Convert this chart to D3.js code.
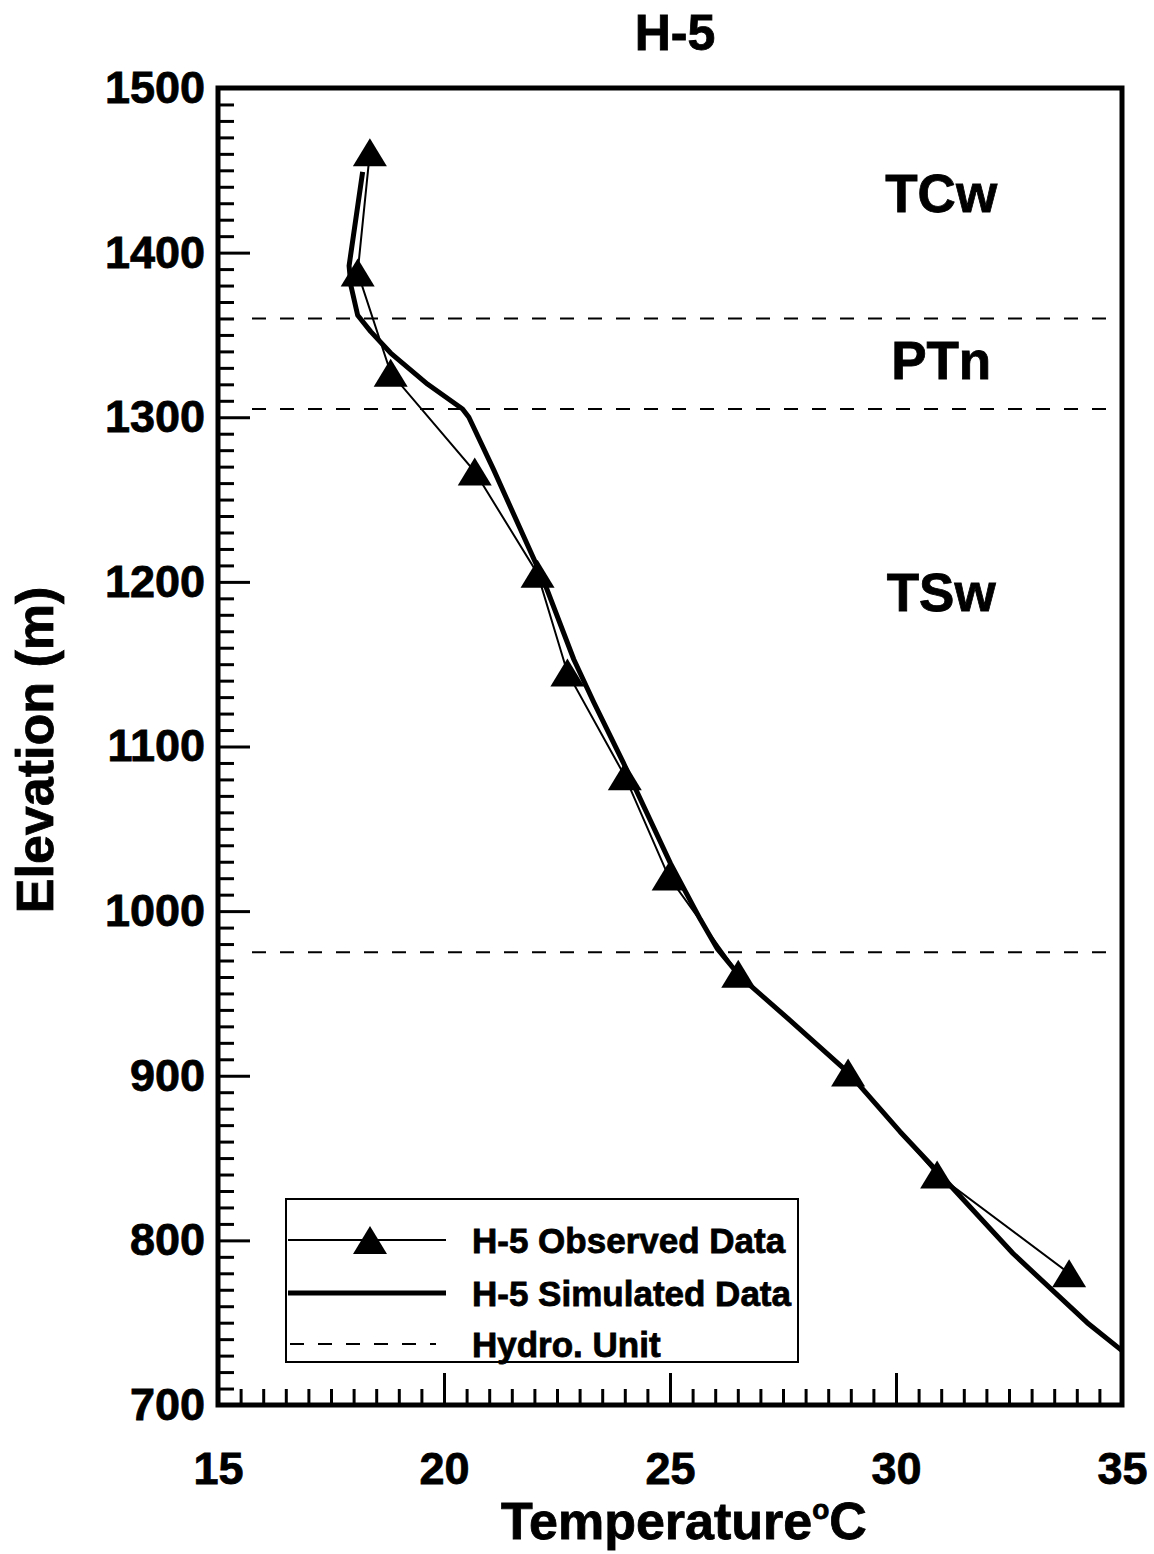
<!DOCTYPE html>
<html lang="en">
<head>
    <meta charset="UTF-8">
    <title>H-5 Temperature Profile</title>
    <script src="https://cdn.jsdelivr.net/npm/d3@7"></script>
</head>
<body>
<style>
    body {
        margin: 0;
        background-color: white;
    }
    svg text {
        font-family: "Liberation Sans", Arial, sans-serif;
        font-weight: bold;
        fill: black;
        stroke: black;
        stroke-width: 0.8px;
    }
    .axis path {
        display: none;
    }
    .axis line {
        stroke: black;
        stroke-width: 3;
    }
    .axis text {
        font-size: 45px;
    }
</style>

<svg width="1154" height="1554"></svg>

<script>
    // observed temperature (degC) and elevation (m)
    var obsTemp = [18.36, 18.09, 18.82, 20.68, 22.07, 22.73, 24.0, 24.97, 26.51, 28.94, 30.91, 33.83];
    var obsElev = [1461, 1388, 1327, 1267, 1205, 1145, 1082, 1021, 962, 902, 840, 780];

    // simulated profile
    var simTemp = [18.20, 17.90, 17.94, 18.09, 18.38, 18.82, 19.64, 20.41, 20.55, 21.10, 22.20, 22.87,
        23.31, 23.97, 25.01, 25.67, 26.05, 26.56, 27.60, 28.94, 30.09, 30.91, 32.59, 34.23, 35.0];
    var simElev = [1449, 1392, 1380, 1362, 1352, 1339, 1320, 1305, 1300, 1268, 1201, 1153,
        1127, 1090, 1029, 995, 977, 960, 935, 902, 866, 842, 792, 750, 733];

    // hydro unit boundaries
    var unitBounds = [1360, 1305, 975];
    var unitNames = ["TCw", "PTn", "TSw"];
    var unitNameElev = [1436, 1335, 1194];
    var unitNameTemp = 31.0;

    var xTicks = [15, 20, 25, 30, 35];
    var yTicks = [700, 800, 900, 1000, 1100, 1200, 1300, 1400, 1500];
    var legendLabels = ["H-5 Observed Data", "H-5 Simulated Data", "Hydro. Unit"];

    var plotL = 218, plotR = 1122, plotT = 88, plotB = 1405;

    var svg = d3.select("svg");
    var getX = d3.scaleLinear().domain([15, 35]).range([plotL, plotR]);
    var getY = d3.scaleLinear().domain([700, 1500]).range([plotB, plotT]);

    var minorX = d3.range(15, 35.01, 0.5).filter(function (v) { return v % 5 !== 0; });
    var minorY = d3.range(700, 1501, 10).filter(function (v) { return v % 100 !== 0; });

    // ticks (inward)
    svg.append("g")
        .attr("class", "axis")
        .attr("transform", "translate(0," + plotB + ")")
        .call(d3.axisBottom(getX).tickValues(minorX).tickSize(-16).tickFormat(""));
    svg.append("g")
        .attr("class", "axis")
        .attr("transform", "translate(0," + plotB + ")")
        .call(d3.axisBottom(getX).tickValues(xTicks).tickSize(-32).tickPadding(47).tickFormat(d3.format("d")));
    svg.append("g")
        .attr("class", "axis")
        .attr("transform", "translate(" + plotL + ",0)")
        .call(d3.axisLeft(getY).tickValues(minorY).tickSize(-16).tickFormat(""));
    svg.append("g")
        .attr("class", "axis")
        .attr("transform", "translate(" + plotL + ",0)")
        .call(d3.axisLeft(getY).tickValues(yTicks).tickSize(-32).tickPadding(13).tickFormat(d3.format("d")));

    // dashed unit lines
    svg.selectAll(".unitLine")
        .data(unitBounds)
        .enter()
        .append("line")
        .attr("class", "unitLine")
        .attr("x1", plotL + 34)
        .attr("x2", plotR)
        .attr("y1", function (d) { return getY(d); })
        .attr("y2", function (d) { return getY(d); })
        .attr("stroke", "black")
        .attr("stroke-width", 2)
        .attr("stroke-dasharray", "14,14");

    svg.selectAll(".unitName")
        .data(unitNames)
        .enter()
        .append("text")
        .attr("class", "unitName")
        .attr("x", getX(unitNameTemp))
        .attr("y", function (d, i) { return getY(unitNameElev[i]); })
        .attr("dy", "0.36em")
        .attr("text-anchor", "middle")
        .style("font-size", "53px")
        .text(function (d) { return d; });

    var line = d3.line()
        .x(function (d) { return getX(d[0]); })
        .y(function (d) { return getY(d[1]); });

    var simData = simTemp.map(function (t, i) { return [t, simElev[i]]; });
    var obsData = obsTemp.map(function (t, i) { return [t, obsElev[i]]; });

    svg.append("path")
        .datum(simData)
        .attr("d", line)
        .attr("fill", "none")
        .attr("stroke", "black")
        .attr("stroke-width", 5)
        .attr("stroke-linejoin", "round");

    svg.append("path")
        .datum(obsData)
        .attr("d", line)
        .attr("fill", "none")
        .attr("stroke", "black")
        .attr("stroke-width", 2);

    var tri = "M0,-14L17,14L-17,14Z";
    svg.selectAll(".obs")
        .data(obsData)
        .enter()
        .append("path")
        .attr("class", "obs")
        .attr("d", tri)
        .attr("transform", function (d) { return "translate(" + getX(d[0]) + "," + getY(d[1]) + ")"; })
        .attr("fill", "black");

    // frame
    svg.append("rect")
        .attr("x", plotL)
        .attr("y", plotT)
        .attr("width", plotR - plotL)
        .attr("height", plotB - plotT)
        .attr("fill", "none")
        .attr("stroke", "black")
        .attr("stroke-width", 5);

    // legend
    var lg = svg.append("g").attr("transform", "translate(286,1199)");
    lg.append("rect")
        .attr("width", 512)
        .attr("height", 163)
        .attr("fill", "white")
        .attr("stroke", "black")
        .attr("stroke-width", 2);
    var rowY = [41, 94, 145];
    lg.append("line").attr("x1", 2).attr("x2", 160).attr("y1", rowY[0]).attr("y2", rowY[0])
        .attr("stroke", "black").attr("stroke-width", 2);
    lg.append("path").attr("d", tri).attr("transform", "translate(84," + rowY[0] + ")");
    lg.append("line").attr("x1", 2).attr("x2", 160).attr("y1", rowY[1]).attr("y2", rowY[1])
        .attr("stroke", "black").attr("stroke-width", 5);
    lg.append("line").attr("x1", 4).attr("x2", 150).attr("y1", rowY[2]).attr("y2", rowY[2])
        .attr("stroke", "black").attr("stroke-width", 2).attr("stroke-dasharray", "14,14");
    lg.selectAll(".lgText")
        .data(legendLabels)
        .enter()
        .append("text")
        .attr("class", "lgText")
        .attr("x", 186)
        .attr("y", function (d, i) { return rowY[i]; })
        .attr("dy", "0.36em")
        .style("font-size", "35px")
        .text(function (d) { return d; });

    // titles
    svg.append("text")
        .attr("x", 675)
        .attr("y", 50)
        .attr("text-anchor", "middle")
        .style("font-size", "50px")
        .text("H-5");

    var xt = svg.append("text")
        .attr("x", 684)
        .attr("y", 1539)
        .attr("text-anchor", "middle")
        .style("font-size", "52px");
    xt.append("tspan").text("Temperature");
    xt.append("tspan").attr("dy", -20).style("font-size", "28px").text("o");
    xt.append("tspan").attr("dy", 20).text("C");

    svg.append("text")
        .attr("transform", "translate(53,750) rotate(-90)")
        .attr("text-anchor", "middle")
        .style("font-size", "52px")
        .text("Elevation (m)");
</script>
</body>
</html>
